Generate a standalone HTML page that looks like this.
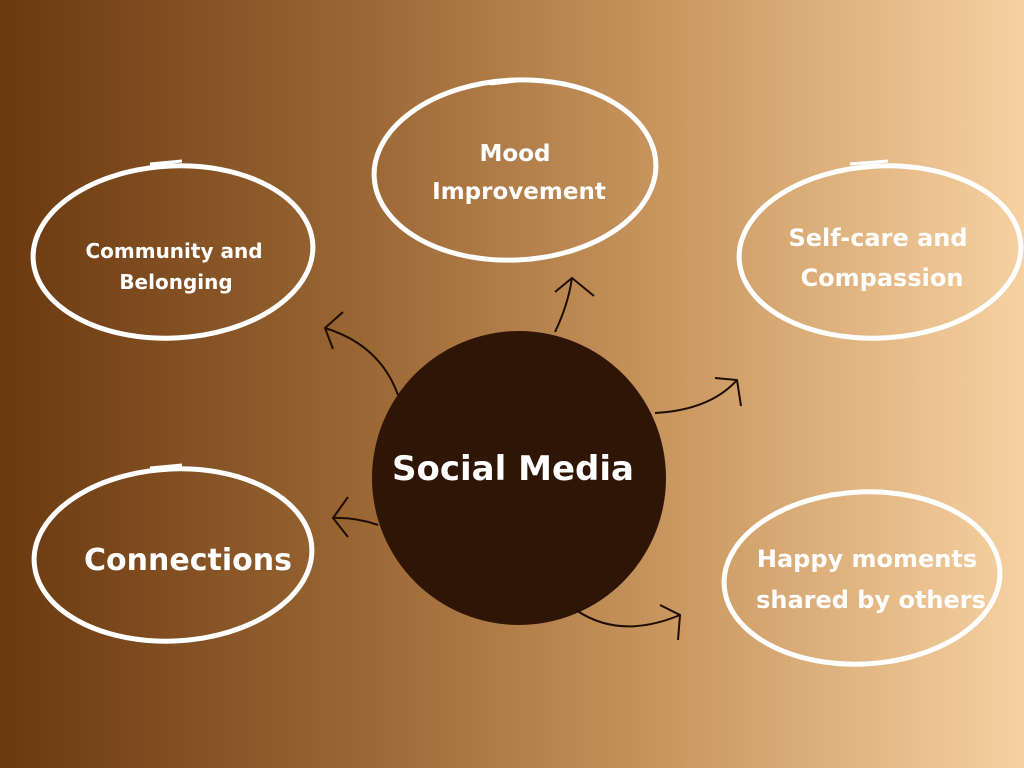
<!DOCTYPE html>
<html><head><style>
body{margin:0;width:1024px;height:768px;overflow:hidden;background:linear-gradient(90deg,#6a3910 0%,#9a6634 35%,#c9965f 65%,#f6d1a1 100%);font-family:"Liberation Sans",sans-serif;}
svg{position:absolute;left:0;top:0}
text{font-family:"DejaVu Sans","Liberation Sans",sans-serif;font-weight:bold;fill:#fff;text-anchor:middle}
</style></head><body>
<svg width="1024" height="768" viewBox="0 0 1024 768">
<g fill="none" stroke="#fff" stroke-width="5">
<ellipse cx="173" cy="252" rx="140" ry="86" transform="rotate(-3 173 252)"/>
<ellipse cx="515" cy="170" rx="141" ry="90" transform="rotate(-3 515 170)"/>
<ellipse cx="880" cy="252" rx="141" ry="86" transform="rotate(-3 880 252)"/>
<ellipse cx="173" cy="555" rx="139" ry="86" transform="rotate(-3 173 555)"/>
<ellipse cx="862" cy="578" rx="138" ry="86" transform="rotate(-3 862 578)"/>
<path d="M150 164 L182 161" stroke-width="3"/>
<path d="M490 84 L525 80" stroke-width="3"/>
<path d="M850 164 L888 161" stroke-width="3"/>
<path d="M150 468 L182 465" stroke-width="3"/>
<path d="M830 494 L868 491" stroke-width="3"/>
</g>
<circle cx="519" cy="478" r="147" fill="#2e1505"/>
<g fill="none" stroke="#1e0d03" stroke-width="2">
<path d="M398 395 Q380 345 325 328 M343 312 L325 328 L333 349"/>
<path d="M555 332 Q568 305 572 278 M555 292 L572 278 L594 296"/>
<path d="M655 413 Q710 410 737 380 M715 378 L737 380 L741 406"/>
<path d="M378 525 Q355 517 333 518 M348 497 L333 518 L348 537"/>
<path d="M576 610 Q620 640 680 615 M660 605 L680 615 L678 640"/>
</g>
<text x="513" y="480" font-size="34">Social Media</text>
<text x="174" y="258" font-size="20">Community and</text>
<text x="176" y="289" font-size="20">Belonging</text>
<text x="515" y="161" font-size="23">Mood</text>
<text x="519" y="199" font-size="23">Improvement</text>
<text x="878" y="246" font-size="24">Self-care and</text>
<text x="882" y="286" font-size="24">Compassion</text>
<text x="188" y="570" font-size="30">Connections</text>
<text x="867" y="567" font-size="24">Happy moments</text>
<text x="871" y="608" font-size="24">shared by others</text>
</svg>
</body></html>
